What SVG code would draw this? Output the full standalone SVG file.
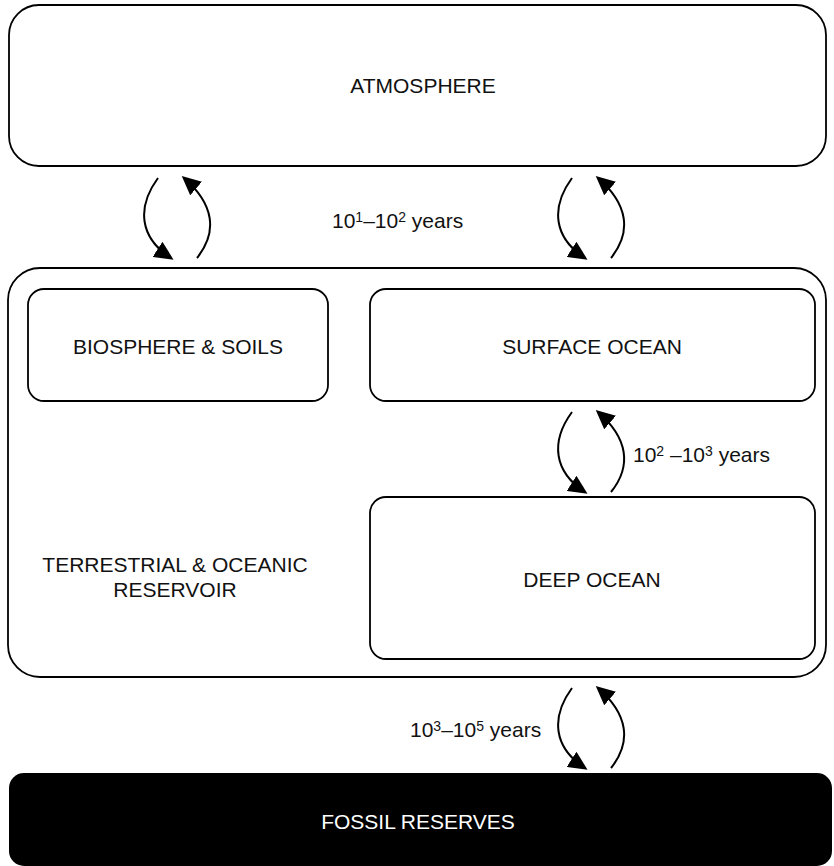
<svg xmlns="http://www.w3.org/2000/svg" width="834" height="866" viewBox="0 0 834 866">
<style>
.box{fill:#fff;stroke:#000;stroke-width:1.8}
.t{font-family:"Liberation Sans",Arial,Helvetica,sans-serif;font-size:21px;fill:#111;text-anchor:middle}
.y{font-family:"Liberation Sans",Arial,Helvetica,sans-serif;font-size:21px;fill:#111}
.c{fill:none;stroke:#000;stroke-width:2}
.sup{font-size:14px}
</style>
<defs>
<marker id="ah" markerUnits="userSpaceOnUse" markerWidth="22" markerHeight="18" refX="16" refY="9" orient="auto">
<path d="M0,0 L19,9 L0,18 z" fill="#000"/>
</marker>
</defs>
<rect width="834" height="866" fill="#fff"/>
<g id="atmosphere">
<rect class="box" x="9" y="5" width="817" height="161" rx="30"/>
<text class="t" x="423" y="93">ATMOSPHERE</text>
</g>
<g id="reservoir">
<rect class="box" x="8" y="268" width="818" height="409" rx="32"/>
<text class="t" x="175" y="572">TERRESTRIAL &amp; OCEANIC</text>
<text class="t" x="175" y="597">RESERVOIR</text>
</g>
<g id="biosphere">
<rect class="box" x="28" y="289" width="300" height="112" rx="16"/>
<text class="t" x="178" y="354">BIOSPHERE &amp; SOILS</text>
</g>
<g id="surface-ocean">
<rect class="box" x="370" y="289" width="445" height="112" rx="16"/>
<text class="t" x="592" y="354">SURFACE OCEAN</text>
</g>
<g id="deep-ocean">
<rect class="box" x="370" y="497" width="445" height="162" rx="16"/>
<text class="t" x="592" y="587">DEEP OCEAN</text>
</g>
<g id="fossil">
<rect x="9" y="773" width="823" height="93" rx="15" fill="#000"/>
<text class="t" x="418" y="829" style="fill:#fff">FOSSIL RESERVES</text>
</g>
<g id="connectors">
<g transform="translate(0,0)">
<path class="c" d="M158,178 C136,208 140,238 171,258" marker-end="url(#ah)"/>
<path class="c" d="M197,258 C218,232 214,204 184,178" marker-end="url(#ah)"/>
</g>
<g transform="translate(414,0)">
<path class="c" d="M158,178 C136,208 140,238 171,258" marker-end="url(#ah)"/>
<path class="c" d="M197,258 C218,232 214,204 184,178" marker-end="url(#ah)"/>
</g>
<g transform="translate(414,234)">
<path class="c" d="M158,178 C136,208 140,238 171,258" marker-end="url(#ah)"/>
<path class="c" d="M197,258 C218,232 214,204 184,178" marker-end="url(#ah)"/>
</g>
<g transform="translate(414,510)">
<path class="c" d="M158,178 C136,208 140,238 171,258" marker-end="url(#ah)"/>
<path class="c" d="M197,258 C218,232 214,204 184,178" marker-end="url(#ah)"/>
</g>
</g>
<g id="labels">
<text class="y" x="332" y="228">10<tspan class="sup" dy="-6">1</tspan><tspan dy="6">–10</tspan><tspan class="sup" dy="-6">2</tspan><tspan dy="6"> years</tspan></text>
<text class="y" x="633" y="462">10<tspan class="sup" dy="-6">2</tspan><tspan dy="6"> –10</tspan><tspan class="sup" dy="-6">3</tspan><tspan dy="6"> years</tspan></text>
<text class="y" x="410" y="737">10<tspan class="sup" dy="-6">3</tspan><tspan dy="6">–10</tspan><tspan class="sup" dy="-6">5</tspan><tspan dy="6"> years</tspan></text>
</g>
</svg>
